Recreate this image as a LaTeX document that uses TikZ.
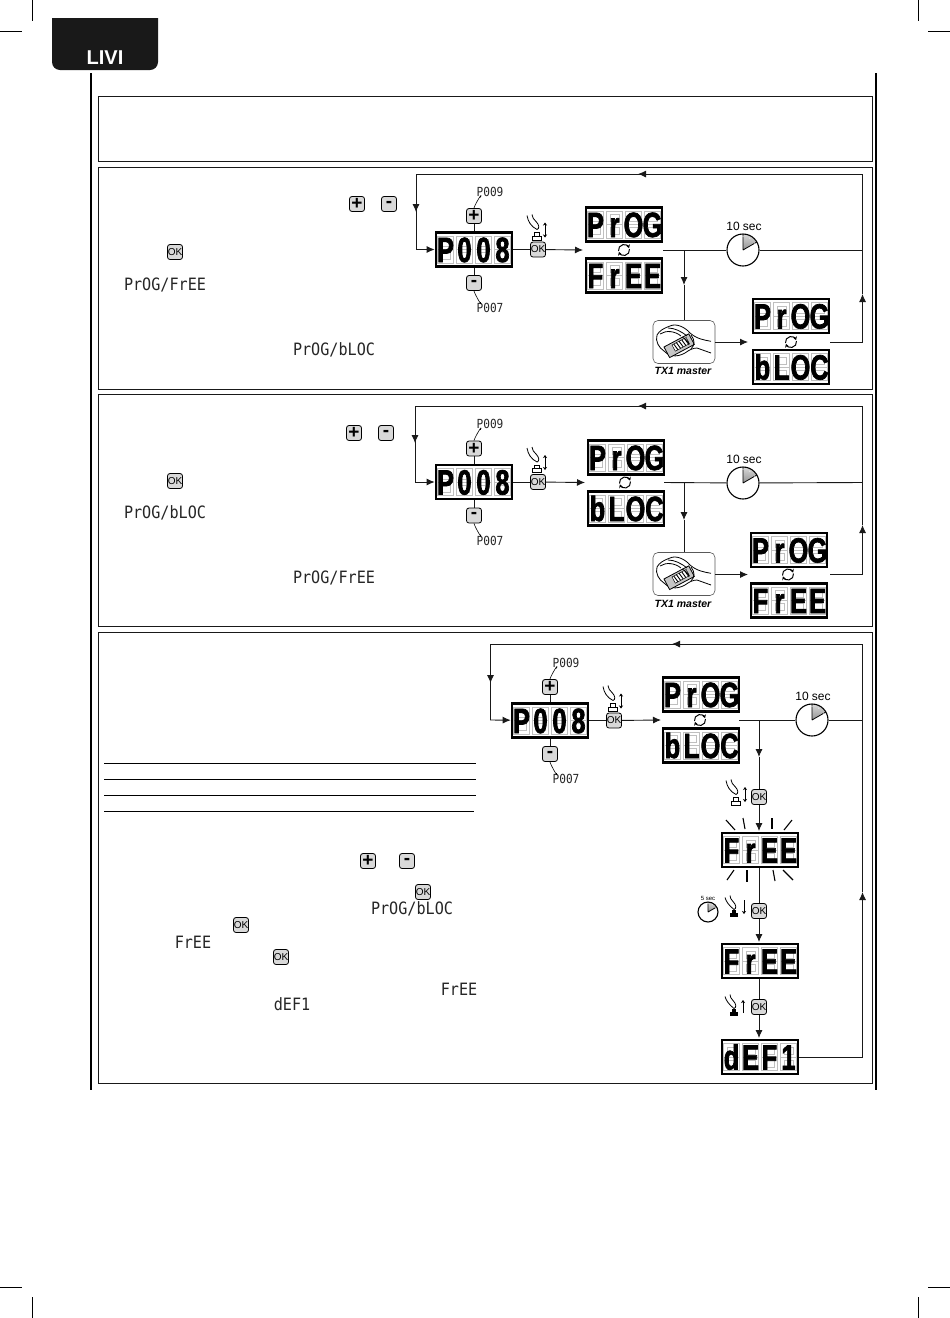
\documentclass[tikz,border=0pt]{standalone}
\usepackage{fontspec}
\usetikzlibrary{arrows.meta}
\setmainfont{Liberation Sans}
\newfontfamily\lcdfont[FakeStretch=0.72,BoldFeatures={FakeBold=2}]{Liberation Sans}
\newfontfamily\thinfont[FakeStretch=0.89]{DejaVu Sans Mono}

% one display: four cells of the same width
\newcommand{\lcd}[4]{\makebox[19pt]{#1}\makebox[19pt]{#2}\makebox[19pt]{#3}\makebox[19pt]{#4}}

% the unlit segments behind the letters
\newcommand{\ghostcells}{%
    \coordinate (m) at (path picture bounding box.center);
    \foreach \cx in {-28.5,-9.5,9.5,28.5}{
        \draw[gray!50, line width=.5pt] (m) ++(\cx,-13.5) +(-8,0) rectangle +(8,27) +(-8,13.5) -- +(8,13.5)
            +(-4.5,3.5) rectangle +(4.5,10.5) +(-4.5,16.5) rectangle +(4.5,23.5);
    }%
}

\tikzset{
    >={Latex[length=8pt,width=7pt]},
    wire/.style={line width=.9pt, black!90},
    panel/.style={draw, line width=1pt, black!90},
    lcd/.style={draw, line width=2.6pt, fill=white, minimum width=76pt, minimum height=34pt, inner sep=0pt,
        text height=25pt, text depth=0pt, font=\lcdfont\bfseries\fontsize{35}{35}\selectfont,
        path picture={\ghostcells}},
    keybox/.style={draw, line width=.8pt, rounded corners=2.5pt, fill=gray!30, minimum size=15pt, inner sep=0pt},
    sign/.style={keybox, font=\bfseries\fontsize{19}{19}\selectfont},
    okbox/.style={keybox, font=\fontsize{10}{10}\selectfont},
    small/.style={inner sep=0pt, text=black!85, font=\thinfont\fontsize{12.5}{12.5}\selectfont},
    big/.style={inner sep=0pt, text=black!85, font=\thinfont\fontsize{17}{17}\selectfont},
    secs/.style={inner sep=0pt, font=\fontsize{#1}{#1}\selectfont},
    clock/.style={circle, draw, line width=1.1pt, fill=white, minimum size={2*#1 pt}, inner sep=0pt,
        path picture={
            \coordinate (m) at (path picture bounding box.center);
            \fill[top color=gray!30, bottom color=gray!85] (m) -- ++(0pt,#1 pt) arc[start angle=90, end angle=30, radius=#1 pt] -- cycle;
            \draw[line width=.8pt] (m) -- ++(90:#1 pt) (m) -- ++(30:#1 pt);
            \foreach \a in {0,30,...,330}{\fill (m) ++(\a:.85*#1 pt) circle (.55pt);}
        }},
    txbox/.style={draw, gray!70!black, line width=.6pt, rounded corners=5pt, fill=white, minimum width=62pt, minimum height=43pt, inner sep=0pt},
    txlabel/.style={inner sep=0pt, font=\bfseries\itshape\fontsize{10.5}{10.5}\selectfont},
    ray/.style={line width=1.1pt},
    refresh/.pic={
        \draw[line width=1pt, -{Stealth[length=3.5pt,width=4pt]}] (-5.5,1) arc[start angle=190, end angle=20, radius=5.5pt];
        \draw[line width=1pt, -{Stealth[length=3.5pt,width=4pt]}] (5.5,-1) arc[start angle=10, end angle=-160, radius=5.5pt];
    },
    fingerup/.pic={
        \draw[line width=.8pt] (-7,-14) .. controls (-6,-8) and (-3,-3) .. (3,0) .. controls (6,-1) and (5,-5) .. (2,-8) .. controls (0,-10) and (-2,-12) .. (-2,-15);
        \draw[line width=.9pt, fill=white] (-2,6.5) rectangle (7,10.5);
        \draw[line width=.9pt] (0,6.5) -- (0,3) -- (5,3) -- (5,6.5);
    },
    fingerdown/.pic={
        \draw[line width=.8pt] (-7,-10) .. controls (-6,-6) and (-3,-2) .. (2,2) .. controls (5,1) and (4,-3) .. (1,-6) .. controls (-1,-8) and (-2,-10) .. (-2,-12);
        \fill (-2,5) rectangle (6,9.5);
        \fill (0,5) -- (0,2) -- (4,2) -- (4,5);
    },
    txhand/.pic={
        \draw[line width=.8pt, fill=white] (27,-.7) .. controls (20,-2) and (13,-3) .. (6,-9) .. controls (1,-15) and (-8,-19) .. (-14,-16)
            .. controls (-20,-14) and (-25,-11) .. (-27,-7) .. controls (-29,-1) and (-25,6) .. (-20,9)
            .. controls (-16,14) and (-8,16) .. (1,11) .. controls (5,8) and (9,6) .. (13,6) -- (27,11);
        \draw[line width=.8pt, fill=gray!45, rotate=28] (-20,-5) rectangle (8,7);
        \draw[line width=.5pt, fill=white, rotate=28] (-12,-3) rectangle (4,4);
        \foreach \k in {-10,-7,-4,-1,2}{\draw[line width=.9pt, rotate=28] (\k,-3) -- (\k+1,4);}
        \draw[line width=.8pt] (-24,-8) .. controls (-18,-12) and (-9,-11) .. (-3,-6);
        \draw[line width=.8pt] (-16,-14) .. controls (-10,-14) and (-3,-11) .. (3,-6);
        \draw[line width=.8pt] (7,-7) .. controls (11,-2) and (11,3) .. (7,7);
        \draw[line width=.8pt] (-2,-5) .. controls (2,-3) and (5,0) .. (5,3);
    },
}

% plus and minus keys, their codes and the OK key round the first display
\newcommand{\keyblock}[3]{
    \node[lcd] (#1main) at (#2,#3) {\lcd{P}{0}{0}{8}};
    \node[sign] (#1plus) at (#2,#3-33.5) {+};
    \node[sign] (#1minus) at (#2,#3+33.5) {-};
    \node[small] (#1up) at (#2+16,#3-58) {P009};
    \node[small] (#1down) at (#2+16,#3+58.5) {P007};
    \node[okbox] (#1ok) at (#2+64,#3) {OK};
    \draw[wire] (#1plus)--(#1main) (#1minus)--(#1main) (#1main)--(#1ok);
    \draw[line width=.6pt] (#1plus.north) .. controls +(1,-4) and +(3,-7) .. ([xshift=4pt,yshift=-1pt]#1up.south west);
    \draw[line width=.6pt] (#1minus.south) .. controls +(1,4) and +(3,7) .. ([xshift=4pt,yshift=1pt]#1down.north west);
    \pic at (#2+60,#3-20) {fingerup};
    \draw[<->, >={Stealth[length=3pt,width=4pt]}, line width=.8pt] (#2+71,#3-27) -- (#2+71,#3-12);
}

\begin{document}
\begin{tikzpicture}[x=1pt, y=-1pt]
    \useasboundingbox (0,0) rectangle (950,1318);

    % crop marks
    \draw[line width=.6pt] (32,0)--(32,21) (0,31)--(22,31);
    \draw[line width=.6pt] (918,0)--(918,21) (928,31)--(950,31);
    \draw[line width=.6pt] (32,1297)--(32,1318) (0,1287)--(22,1287);
    \draw[line width=.6pt] (918,1297)--(918,1318) (928,1287)--(950,1287);

    % tab
    \fill[black!90] (52,18) -- (158,18) -- (158,62) arc[start angle=0, end angle=-90, radius=8pt] -- (60,70) arc[start angle=-90, end angle=-180, radius=8pt] -- cycle;
    \node[inner sep=0pt, text=white, font=\bfseries\fontsize{20}{20}\selectfont] (tab) at (105,58) {LIVI};

    % page rules and panels
    \draw[line width=2.6pt] (91,73)--(91,1090);
    \draw[line width=2.6pt] (876,73)--(876,1090);
    \draw[panel] (98,96) rectangle (872,161);
    \draw[panel] (98,167) rectangle (872,389);
    \draw[panel] (98,394) rectangle (872,626);
    \draw[panel] (98,632) rectangle (872,1083);

    % first panel
    \node[sign] (ka) at (357,204) {+};
    \node[sign] (kb) at (389,204) {-};
    \node[okbox] (kc) at (175,252) {OK};
    \node[big] (ta) at (165,285) {PrOG/FrEE};
    \node[big] (tb) at (334,350) {PrOG/bLOC};

    \keyblock{a}{474}{249.5}
    \node[lcd] (aprog) at (624,224.5) {\lcd{P}{r}{O}{G}};
    \node[lcd] (afree) at (624,275.5) {\lcd{F}{r}{E}{E}};
    \pic at (624,250) {refresh};
    \node[clock=16] (aclock) at (743,250) {};
    \node[secs=12] (asec) at (744,226) {10 sec};
    \node[txbox] (atx) at (684,342) {};
    \pic at (684,342) {txhand};
    \node[txlabel] (atxl) at (683,371) {TX1 master};
    \node[lcd] (bprog) at (791,316) {\lcd{P}{r}{O}{G}};
    \node[lcd] (bbloc) at (791,367) {\lcd{b}{L}{O}{C}};
    \pic at (791,342) {refresh};

    \coordinate (ain) at (583,250);
    \coordinate (aout) at (663,250);
    \coordinate (aj) at (684,250);
    \coordinate (ar) at (862.5,250);
    \coordinate (abin) at (748,342);
    \coordinate (about) at (830,342);
    \coordinate (abr) at (862.5,342);
    \coordinate (atr) at (862.5,174);
    \coordinate (atl) at (416,174);
    \coordinate (al) at (416,249.5);

    \draw[wire, ->] (aok) -- (ain);
    \draw[wire] (aout) -- (aclock) -- (ar);
    \draw[wire, ->] (aj) -- (684,285);
    \draw[wire] (684,285) -- (atx);
    \draw[wire, ->] (atx.east |- abin) -- (abin);
    \draw[wire, ->] (about) -- (abr) -- (862.5,294);
    \draw[wire] (862.5,294) -- (ar) -- (atr) -- (638,174);
    \draw[wire, <-] (638,174) -- (648,174);
    \draw[wire] (638,174) -- (atl) -- (416,212);
    \draw[wire, <-] (416,212) -- (416,205);
    \draw[wire, ->] (416,212) -- (al) -- (amain);

    % second panel
    \node[sign] (kd) at (354,433) {+};
    \node[sign] (ke) at (386,433) {-};
    \node[okbox] (kf) at (175,481) {OK};
    \node[big] (tc) at (165,513) {PrOG/bLOC};
    \node[big] (td) at (334,578) {PrOG/FrEE};

    \keyblock{c}{474}{482}
    \node[lcd] (cprog) at (626,457.5) {\lcd{P}{r}{O}{G}};
    \node[lcd] (cbloc) at (626,508.5) {\lcd{b}{L}{O}{C}};
    \pic at (625,482.5) {refresh};
    \node[clock=16] (cclock) at (743,483) {};
    \node[secs=12] (csec) at (744,459) {10 sec};
    \node[txbox] (ctx) at (684,574) {};
    \pic at (684,574) {txhand};
    \node[txlabel] (ctxl) at (683,603.5) {TX1 master};
    \node[lcd] (dprog) at (789,550) {\lcd{P}{r}{O}{G}};
    \node[lcd] (dfree) at (789,600.5) {\lcd{F}{r}{E}{E}};
    \pic at (788,574.5) {refresh};

    \coordinate (cin) at (585,482.5);
    \coordinate (cout) at (664,482.5);
    \coordinate (cj) at (684,482.5);
    \coordinate (cr) at (862.5,482.5);
    \coordinate (cbin) at (748,574.5);
    \coordinate (cbout) at (830,574.5);
    \coordinate (cbr) at (862.5,574.5);
    \coordinate (ctr) at (862.5,406);
    \coordinate (ctl) at (415,406);
    \coordinate (cl) at (415,482);

    \draw[wire, ->] (cok) -- (cin);
    \draw[wire] (cout) -- (cclock) -- (cr);
    \draw[wire, ->] (cj) -- (684,520);
    \draw[wire] (684,520) -- (ctx);
    \draw[wire, ->] (ctx.east |- cbin) -- (cbin);
    \draw[wire, ->] (cbout) -- (cbr) -- (862.5,525);
    \draw[wire] (862.5,525) -- (cr) -- (ctr) -- (638,406);
    \draw[wire, <-] (638,406) -- (648,406);
    \draw[wire] (638,406) -- (ctl) -- (415,443);
    \draw[wire, <-] (415,443) -- (415,436);
    \draw[wire, ->] (415,443) -- (cl) -- (cmain);

    % third panel, text side
    \foreach \ly/\lx in {763/476,779/476,795/476,811/474}
        \draw[line width=.8pt] (104,\ly) -- (\lx,\ly);
    \node[sign] (kg) at (368,861) {+};
    \node[sign] (kh) at (407,861) {-};
    \node[okbox] (ki) at (423,892) {OK};
    \node[big] (te) at (412,909) {PrOG/bLOC};
    \node[okbox] (kj) at (241,925) {OK};
    \node[big] (tf) at (193,942) {FrEE};
    \node[okbox] (kk) at (281,957) {OK};
    \node[big] (tg) at (459,989) {FrEE};
    \node[big] (th) at (292,1004) {dEF1};

    % third panel, diagram
    \keyblock{e}{550}{720.5}
    \node[lcd] (eprog) at (701,694.5) {\lcd{P}{r}{O}{G}};
    \node[lcd] (ebloc) at (701,745.5) {\lcd{b}{L}{O}{C}};
    \pic at (700,720) {refresh};
    \node[clock=16] (eclock) at (812,720) {};
    \node[secs=12] (esec) at (813,696) {10 sec};

    \pic at (733,794.5) {fingerup};
    \draw[<->, >={Stealth[length=3pt,width=4pt]}, line width=.8pt] (745,787) -- (745,802);
    \node[okbox] (eok1) at (759,797) {OK};
    \node[lcd] (efree1) at (760,850) {\lcd{F}{r}{E}{E}};
    \foreach \ax/\ay/\bx/\by in {726/820/735/830,743/818/745/829,772/818/772/829,792/820/784/830,734/870/727/880,747/870/747/882,773/870/775/881,783/870/793/880}
        \draw[ray] (\ax,\ay) -- (\bx,\by);

    \node[clock=10] (fclock) at (708,912) {};
    \node[secs=6] (fsec) at (708,898) {5 sec};
    \pic at (732,907.5) {fingerdown};
    \draw[-{Stealth[length=3pt,width=4pt]}, line width=.8pt] (744,900) -- (744,914);
    \node[okbox] (eok2) at (759,911) {OK};
    \node[lcd] (efree2) at (760,961) {\lcd{F}{r}{E}{E}};

    \pic at (732,1006.5) {fingerdown};
    \draw[-{Stealth[length=3pt,width=4pt]}, line width=.8pt] (743,1013) -- (743,1000);
    \node[okbox] (eok3) at (759,1007) {OK};
    \node[lcd] (edef) at (760,1057) {\lcd{d}{E}{F}{1}};

    \coordinate (ein) at (661,720);
    \coordinate (eout) at (739,720);
    \coordinate (ej) at (759,720);
    \coordinate (er) at (862.5,720);
    \coordinate (ebr) at (862.5,1057);
    \coordinate (etr) at (862.5,644);
    \coordinate (etl) at (490.5,644);
    \coordinate (el) at (490.5,720);

    \draw[wire, ->] (eok) -- (ein);
    \draw[wire] (eout) -- (eclock) -- (er);
    \draw[wire, ->] (ej) -- (759,757);
    \draw[wire] (759,757) -- (eok1);
    \draw[wire, ->] (eok1) -- (759,831);
    \draw[wire] (759,868) -- (eok2);
    \draw[wire, ->] (eok2) -- (759,942);
    \draw[wire] (759,979) -- (eok3);
    \draw[wire, ->] (eok3) -- (759,1038);
    \draw[wire, ->] (edef) -- (ebr) -- (862.5,892);
    \draw[wire] (862.5,892) -- (er) -- (etr) -- (672,644);
    \draw[wire, <-] (672,644) -- (682,644);
    \draw[wire] (672,644) -- (etl) -- (490.5,683);
    \draw[wire, <-] (490.5,683) -- (490.5,676);
    \draw[wire, ->] (490.5,683) -- (el) -- (emain);

\end{tikzpicture}
\end{document}
